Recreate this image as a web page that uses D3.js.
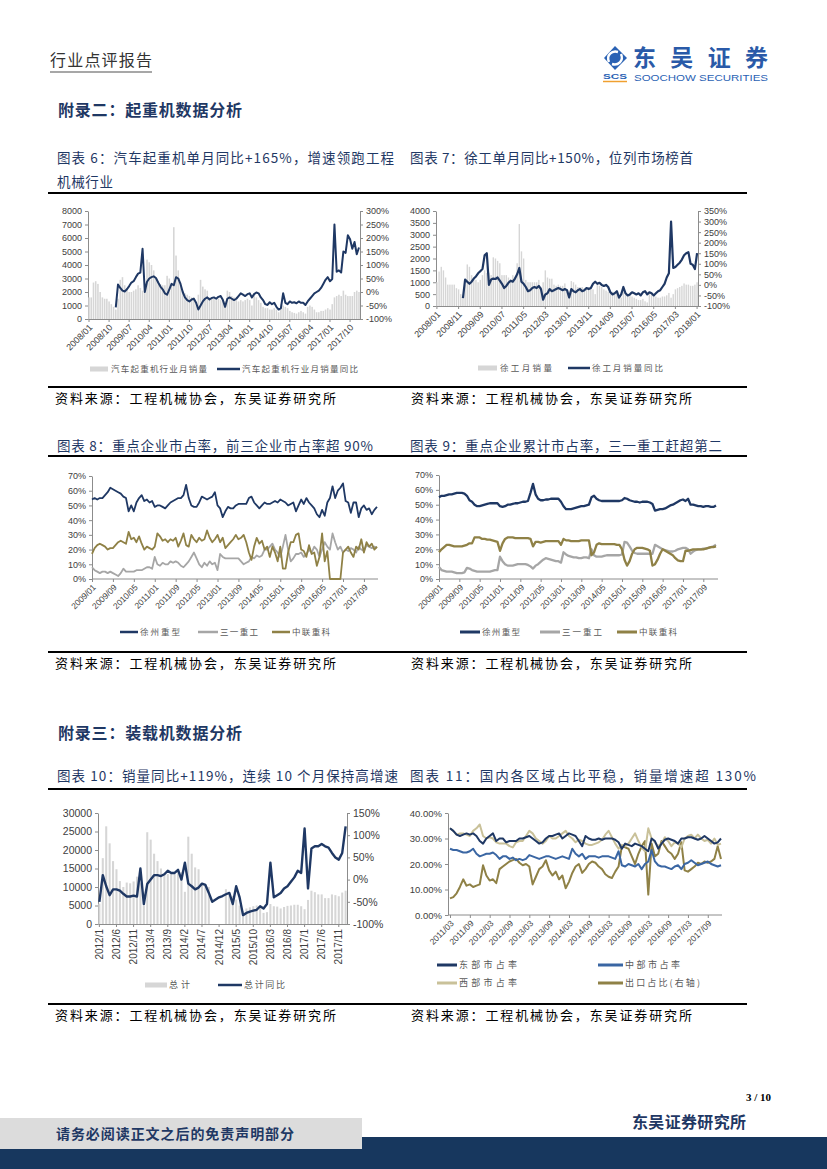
<!DOCTYPE html>
<html><head><meta charset="utf-8">
<script src="https://cdn.jsdelivr.net/npm/d3@7"></script>
<style>body{margin:0;background:#fff}svg{display:block}</style>
</head><body>
<script>
// ---------------- DATA ----------------
// Chart 6: truck crane monthly sales (2008/01-2018/02) and YoY % (2009/01-2018/02)
const c6TickLabels = ["2008/01","2008/10","2009/07","2010/04","2011/01","2011/10","2012/07","2013/04","2014/01","2014/10","2015/07","2016/04","2017/01","2017/10"];
const c6LeftTicks = [0,1000,2000,3000,4000,5000,6000,7000,8000];
const c6RightTicks = [-100,-50,0,50,100,150,200,250,300];
const c6Sales = [1600,1600,2700,2800,2600,2000,1600,1500,1500,1300,1100,900,
 700,1500,2900,3100,2500,2300,2000,2000,2100,2200,2500,2300,
 2100,2000,4400,4200,4000,3600,3000,2800,2600,2500,2500,3200,
 3000,2600,6800,4700,3600,2700,2100,1900,1800,1700,1600,1600,
 1200,1800,2900,2400,2200,2100,1600,1500,1500,1400,1500,1400,
 1500,1300,2100,2000,1700,1600,1400,1300,1400,1300,1400,1500,
 1400,1000,1900,1600,1400,1200,900,800,800,700,700,800,
 700,500,1100,1000,900,800,600,500,450,400,500,600,
 500,400,900,1000,900,700,500,500,600,600,700,800,
 700,1100,1600,1700,1800,1700,2100,1800,1700,1700,1700,2000,
 2100,2000];
const c6Yoy = [-57,28,15,5,2,10,22,35,40,55,68,72,
 160,0,38,50,55,58,52,35,20,10,-5,-10,
 10,30,25,55,50,30,0,-20,-30,-35,-28,-25,
 -40,-65,-50,-35,-25,-20,-28,-22,-20,-25,-18,-15,
 -30,-55,-25,-20,-25,-30,-25,-15,-5,-10,-15,-8,
 -5,-20,-8,-2,-5,-20,-30,-45,-48,-38,-45,-40,
 -55,-65,-60,-5,-40,-45,-35,-40,-38,-42,-35,-40,
 -40,-48,-35,-25,-15,-5,0,5,15,30,45,55,
 40,48,250,75,80,72,150,145,210,195,160,185,
 140,165];

// Chart 7: XCMG monthly sales (2008/01-2018/01) and YoY % (2009/01-2018/01)
const c7TickLabels = ["2008/01","2008/11","2009/09","2010/07","2011/05","2012/03","2013/01","2013/11","2014/09","2015/07","2016/05","2017/03","2018/01"];
const c7LeftTicks = [0,500,1000,1500,2000,2500,3000,3500,4000];
const c7RightTicks = [-100,-50,0,50,100,150,200,250,300,350];
const c7Sales = [1000,1450,1650,1500,1200,900,900,900,900,750,700,500,
 400,900,1750,1650,1300,1100,1100,1000,1100,1300,1500,1400,
 1400,1300,2050,2000,1900,1800,1300,1300,1300,1200,1100,1300,
 1200,1800,3450,2300,2000,1100,1000,1000,1000,1000,1000,1100,
 800,1000,1500,1200,1150,1150,900,850,900,850,850,950,
 700,600,1050,1000,900,800,800,800,750,800,800,800,
 700,500,900,850,800,700,650,600,550,600,550,600,
 450,350,600,550,500,450,400,350,300,250,250,300,
 200,150,500,500,450,400,350,350,400,400,450,550,
 350,500,700,750,800,850,950,900,900,850,850,900,
 1000];
const c7Yoy = [-63,25,15,5,15,30,40,55,65,75,140,150,
 0,25,30,28,35,20,5,-15,-5,10,20,15,
 30,50,80,15,5,-10,-30,-25,-15,-10,-15,-5,
 -20,-70,-45,-40,-20,-30,-25,-20,-15,-20,-25,-20,
 -25,-60,-20,-30,-35,-25,-20,-30,-25,-15,-20,-15,
 5,15,5,10,0,-5,0,-10,-35,-45,-40,-30,
 -60,-45,-10,-40,-50,-45,-35,-40,-45,-40,-50,-35,
 -30,-45,-35,-40,-50,-40,-30,-25,-10,5,35,55,
 300,80,85,95,105,120,140,150,155,100,95,75,
 150];

// Chart 8: monthly market share % (2009/01-2018/02)
const shareTickLabels = ["2009/01","2009/09","2010/05","2011/01","2011/09","2012/05","2013/01","2013/09","2014/05","2015/01","2015/09","2016/05","2017/01","2017/09"];
const shareTicks = [0,10,20,30,40,50,60,70];
const c8Xcmg = [54,55,54,55,55,57,59,62,61,60,59,58,
 56,55,46,50,46,52,55,57,53,54,52,53,
 49,50,50,49,48,50,52,53,54,55,55,57,
 64,55,50,49,49,52,56,55,54,55,56,59,
 50,48,42,46,49,48,48,50,51,51,51,51,
 55,56,52,50,48,50,52,51,51,52,53,52,
 54,53,52,50,51,52,46,50,54,51,55,52,
 50,48,44,42,47,43,52,55,63,55,60,62,
 65,53,52,45,52,52,42,48,50,47,48,44,
 47,49];
const c8Sany = [8,6,5,4,5,5,4,5,4,3,2,4,
 7,5,5,5,5,6,6,6,7,8,8,7,
 15,10,9,11,10,10,12,11,12,11,9,8,
 10,12,15,18,14,10,8,11,9,12,10,11,
 6,17,15,14,14,14,14,14,14,12,10,11,
 12,15,14,16,15,16,20,20,22,24,20,18,
 15,22,30,20,12,14,17,17,18,15,17,20,
 18,22,20,15,20,25,22,20,31,25,20,22,
 18,20,19,21,20,18,22,20,19,23,22,21,
 22,21];
const c8Zoomlion = [17,21,23,24,23,22,20,21,21,23,25,26,
 25,24,32,27,28,25,29,24,20,22,21,20,
 22,31,29,26,27,25,27,26,28,22,26,31,
 23,22,30,27,25,28,26,27,33,28,25,27,
 30,25,28,21,23,25,27,30,27,28,30,25,
 18,13,22,28,24,26,20,22,15,22,18,12,
 22,7,7,18,25,25,30,31,20,19,15,23,
 17,18,9,15,31,12,19,0,0,0,0,0,
 18,20,22,18,15,22,20,27,18,25,22,24,
 20,22];

// Chart 9: cumulative market share % (2009/01-2018/02)
const c9Xcmg = [55,56,56,56.5,57,57,57.5,58,58,58,57.5,56,
 53,52,50,49,49,49.5,50,50.5,51,51,51,51,
 49,48.5,49,50,50,50.5,51,51,51.5,52,52,52.5,
 58,64,57,54,53,53,53.5,53.5,54,54,54,54,
 52,49,47,47,47,47.5,48,48.5,49,49,49.5,50,
 55,56,54,53,52.5,52.5,52.5,52.5,52.5,52.5,52.5,52.5,
 53,54.5,54,53,52.5,52,52,51.5,52,52,52,51.5,
 50.5,46,46.5,47,47,47.5,48.5,49.5,50,51,52,53,
 53.5,52.5,54,50,50,49.5,49,49,48.5,49,49,48.5,
 48.5,49.5];
const c9Sany = [8,6,5.5,5,5,5,4.5,4,4,4,4.5,7.5,
 7,6,5.5,5,5,5,5,5,5,5.5,6,6,
 15,12,10,9,9,9,9.5,10,10,10,10,9.5,
 8.5,7,9,10,11.5,13,14,13.5,13,12.5,12,12,
 11,18,16.5,15.5,15,14.5,14.5,14,14,14.5,14.5,14,
 20,16,15,15,15,15.5,16,16,16,16,16,16,
 16.5,25,24.5,22,19,17.5,17,17,17,17,17,17,
 17,23,22,21,20,19.5,19,18.5,18.5,19,20,20.5,
 21,21,20,17,18.5,19.5,20,20,20.5,20.5,21,21.5,
 22,23];
const c9Zoomlion = [18,20,21.5,23,23,22.5,22,22,22,22,22.5,23,
 24,24,28,28,28,27,27,26.5,26.5,26,25.5,25,
 19,24,27,28,28,28,27.5,27.5,27.5,27.5,27.5,27.5,
 27,22,25,25,24.5,25,25.5,25.5,25.5,25.5,25.5,25.5,
 23,27,26,26,25.5,25.5,25.5,25.5,26,26,26,26,
 16,18,23,24,23.5,23.5,23.5,23.5,23.5,23.5,23,23,
 20,13,9,12,17,20,21,21,21,20.5,20,19,
 9,10,13,17,20,19,18,17,16,14,12.5,12,
 12,19,19,19.5,20,20,20,20,20,20.5,21,21.5,
 21.5,22];

// Chart 10: loader total monthly sales (2012/1-2018/1) and YoY %
const c10TickLabels = ["2012/1","2012/6","2012/11","2013/4","2013/9","2014/2","2014/7","2014/12","2015/5","2015/10","2016/3","2016/8","2017/1","2017/6","2017/11"];
const c10LeftTicks = [0,5000,10000,15000,20000,25000,30000];
const c10RightTicks = [-100,-50,0,50,100,150];
const c10Sales = [5500,17800,26400,21800,17000,14800,11600,10000,11200,11000,11500,12800,
 11000,5000,24800,22800,19000,17000,15000,13500,13500,13500,13500,14000,
 14000,8700,23600,19000,15300,14800,11000,10500,10000,null,null,null,
 null,9400,8000,7600,6600,5000,3500,4200,4500,4800,5000,4600,
 3000,3200,5400,4800,4700,4200,4600,4900,5000,5200,5200,4800,
 4000,6500,9000,8600,8000,8000,7000,7000,8000,7800,7500,8500,
 9000];
const c10Yoy = [-50,10,-15,-35,-22,-22,-25,-32,-38,-38,-36,-38,
 25,-55,-10,0,10,10,8,12,20,15,15,22,
 0,38,-9,-15,-22,-18,-9,-12,-30,-50,-45,-40,
 -37,-33,-30,-55,-15,-40,-80,-75,-72,-70,-68,-60,
 -65,-55,38,-40,-35,-30,-20,-15,-5,5,20,15,
 115,-20,70,75,75,80,75,72,60,50,45,60,
 120];

// Chart 11: regional shares % (2011/03-2018/01)
const c11TickLabels = ["2011/03","2011/09","2012/03","2012/09","2013/03","2013/09","2014/03","2014/09","2015/03","2015/09","2016/03","2016/09","2017/03","2017/09"];
const c11Ticks = [0,10,20,30,40];
const c11East = [34,33,31.5,31,31.5,32,31.5,32,31,29,28,30,31,32,29,30,30,28.5,29,29,29,30,30,30.5,31,30,29,28,28.5,30,31,31,31.5,32,30,31,32,31.5,31,29,27,31,30,29.5,29.5,30,29.5,30,30,30,29.5,28.5,26,28,27.5,27,28,27.5,27,26,25,30,29,26,28,29.5,30,29.5,29,28,30,30,30.5,30.5,30,29.5,30,31,30,29,28,28.5,30];
const c11Central = [26,25.5,25.5,25,24.5,24.5,25,26,24,23,23.5,24,24,24.5,23.5,22,23,23,22,22.5,21.5,22,21.5,22,23.5,23,22.5,22,22.5,23,23,22.5,22,22.5,23,22.5,22,26,24,23,24,22,23,23,23,22.5,23,23,23,22.5,22,25,19.5,19,20,19.5,19,20,18,20,21,25.5,21,19.5,19,19,18.5,18,19,19.5,18,20,20.5,21.5,20.5,19.5,20,20.5,21,20,19.5,19,19.5];
const c11West = [34,33,31.5,32,32,31.5,31,33,34,35.5,31,30,30.5,30,28.5,28,28,28,27,26.5,28.5,29,29,31,33,32,30,29,28,29,31,30,30,31,32,33,31,30,28.5,29.5,29,28,27.5,27.5,28,28.5,29.5,31.5,33,30.5,28,26,27.5,27,28,30,32,29,26.5,25,34,30,28.5,27,28,30.5,29,27,28.5,28,26.5,30,31,31.5,30,31.5,30,29,29.5,28,30,27.5,28];
const c11Export = [6.5,7,8.5,11,14,11.5,12,11,11.5,12,19.5,15.5,13.5,14,12.5,18,19,20,21,21.5,22,20.5,19.5,20,19,12,15,18,19,21.5,17.5,15.5,17,14,15.5,10.5,13,16.5,19,20,16.5,18,20,21,20.5,19,18,16,15,14.5,17,19,27,26.5,26,23,20,24,27,29,8,28,23,24,29,27,25,24,22,24,28.5,17.5,17,18,19,20.5,20,21,20.5,21,22,27,22];

// ---------------- HELPERS ----------------
function months(y, m, n, pad) {
  const out = [];
  for (let i = 0; i < n; i++) {
    const k = m - 1 + i, mm = k % 12 + 1, yy = y + Math.floor(k / 12);
    out.push(yy + "/" + (pad ? String(mm).padStart(2, "0") : mm));
  }
  return out;
}
const c6Cats = months(2008, 1, c6Sales.length, true);
const c7Cats = months(2008, 1, c7Sales.length, true);
const shareCats = months(2009, 1, c8Xcmg.length, true);
const c10Cats = months(2012, 1, c10Sales.length, false);
const c11Cats = months(2011, 3, c11East.length, true);

const NAVY = "#1f3864", BAR = "#d6d6d6", GRAYL = "#a6a6a6", OLIVE = "#8f8146",
      BLUE = "#3a66a3", BEIGE = "#c9c199", AXIS = "#8c8c8c", LBL = "#404040";
const NUM = "'Liberation Sans', Arial, sans-serif";
const CJK = "'Noto Sans CJK SC', 'Noto Sans', sans-serif";

const svg = d3.select("body").append("svg").attr("width", 827).attr("height", 1169)
  .style("font-family", CJK);

function txt(x, y, s, o = {}) {
  const t = svg.append("text").attr("x", x).attr("y", y).text(s)
    .attr("font-size", o.size || 14).attr("fill", o.fill || "#000")
    .attr("font-weight", o.bold ? "bold" : "normal");
  if (o.len) t.attr("textLength", o.len).attr("lengthAdjust", o.adj || "spacing");
  if (o.family) t.style("font-family", o.family);
  if (o.anchor) t.attr("text-anchor", o.anchor);
  return t;
}
function hline(x1, x2, y, w, c) {
  svg.append("line").attr("x1", x1).attr("x2", x2).attr("y1", y).attr("y2", y)
    .attr("stroke", c || "#000").attr("stroke-width", w || 1.8);
}
function styleAxis(g, fs) {
  g.attr("font-family", NUM).attr("font-size", fs);
  g.select(".domain").attr("stroke", AXIS).attr("stroke-width", 1);
  g.selectAll(".tick line").attr("stroke", AXIS);
  g.selectAll(".tick text").attr("fill", LBL);
  return g;
}
function valAxis(side, xpos, y, ticks, fmt, fs) {
  const ax = (side === "left" ? d3.axisLeft(y) : d3.axisRight(y))
    .tickValues(ticks).tickFormat(fmt).tickSize(3).tickPadding(3).tickSizeOuter(0);
  return styleAxis(svg.append("g").attr("transform", `translate(${xpos},0)`).call(ax), fs);
}
function catAxis(x, ypos, ticks, fs, rot) {
  const g = svg.append("g").attr("transform", `translate(0,${ypos})`)
    .call(d3.axisBottom(x).tickValues(ticks).tickSize(3).tickSizeOuter(0));
  styleAxis(g, fs);
  const t = g.selectAll(".tick text").attr("x", 0).attr("y", 0).attr("text-anchor", "end");
  if (rot === 45) t.attr("dy", "0.32em").attr("transform", "translate(2,7) rotate(-45)");
  else t.attr("dy", "0.35em").attr("transform", "translate(0,5) rotate(-90)");
  return g;
}
function drawLine(x, y, cats, vals, color, w) {
  const off = x.bandwidth ? x.bandwidth() / 2 : 0;
  const line = d3.line().x((d, i) => x(cats[i]) + off).y(d => y(d));
  svg.append("path").datum(vals).attr("d", line).attr("fill", "none")
    .attr("stroke", color).attr("stroke-width", w).attr("stroke-linejoin", "round");
}
function drawBars(x, y, cats, vals) {
  svg.append("g").selectAll("rect")
    .data(vals.map((v, i) => ({ v, c: cats[i] })).filter(d => d.v != null))
    .join("rect").attr("x", d => x(d.c)).attr("width", x.bandwidth())
    .attr("y", d => y(d.v)).attr("height", d => y(0) - y(d.v)).attr("fill", BAR);
}
function legLine(x1, x2, y, color, w, label, tx, len, fs) {
  svg.append("line").attr("x1", x1).attr("x2", x2).attr("y1", y).attr("y2", y)
    .attr("stroke", color).attr("stroke-width", w);
  txt(tx, y + 3.2, label, { size: fs || 8.5, fill: "#595959", len });
}
function legRect(x1, x2, y, label, tx, len, fs) {
  svg.append("rect").attr("x", x1).attr("y", y - 2.5).attr("width", x2 - x1).attr("height", 5).attr("fill", BAR);
  txt(tx, y + 3.2, label, { size: fs || 8.5, fill: "#595959", len });
}
const pct = d => d + "%";

// ---------------- PAGE FRAME ----------------
txt(50, 66, "行业点评报告", { size: 16, fill: "#333", len: 102 });
hline(50, 152, 72, 1.5, "#8a8a8a");

// logo
const lg = svg.append("g");
lg.append("path").attr("d", "M604,58 L615,46 L627,58 L615,70 Z").attr("fill", "#2a62b4");
lg.append("path").attr("d", "M609,62 C606,55 612,50 618,52 M621,54 C624,61 618,66 612,64")
  .attr("fill", "none").attr("stroke", "#fff").attr("stroke-width", 2.4);
txt(603, 79, "SCS", { size: 8, fill: "#2a62b4", bold: true, family: NUM, len: 24, adj: "spacingAndGlyphs" });
hline(603, 627, 81.5, 1.5, "#f0a030");
txt(633, 66, "东吴证券", { size: 23, fill: "#2a5aa8", bold: true, len: 135 });
txt(634, 81, "SOOCHOW SECURITIES", { size: 9.5, fill: "#2a62b4", family: NUM, len: 134, adj: "spacingAndGlyphs" });

txt(58, 116, "附录二：起重机数据分析", { size: 16, fill: NAVY, bold: true, len: 184 });
txt(57, 163, "图表 6：汽车起重机单月同比+165%，增速领跑工程", { size: 13.5, fill: NAVY, len: 337 });
txt(57, 187, "机械行业", { size: 13.5, fill: NAVY, len: 56 });
txt(410, 163, "图表 7：徐工单月同比+150%，位列市场榜首", { size: 13.5, fill: NAVY, len: 283 });
hline(48, 747, 193);

// ---------------- CHART 6 ----------------
{
  const x = d3.scaleBand().domain(c6Cats).range([88, 360]).paddingInner(0.3).paddingOuter(0.1);
  const yL = d3.scaleLinear().domain([0, 8000]).range([319, 211]);
  const yR = d3.scaleLinear().domain([-100, 300]).range([319, 211]);
  valAxis("left", 88, yL, c6LeftTicks, d => d, 9);
  valAxis("right", 360, yR, c6RightTicks, pct, 9);
  catAxis(x, 319, c6TickLabels, 9, 45);
  drawBars(x, yL, c6Cats, c6Sales);
  drawLine(x, yR, c6Cats.slice(12), c6Yoy, NAVY, 2);
  legRect(90, 108, 369, "汽车起重机行业月销量", 111, 96);
  legLine(217, 240, 369, NAVY, 2.5, "汽车起重机行业月销量同比", 242, 116);
}
// ---------------- CHART 7 ----------------
{
  const x = d3.scaleBand().domain(c7Cats).range([436, 698]).paddingInner(0.35).paddingOuter(0.1);
  const yL = d3.scaleLinear().domain([0, 4000]).range([306, 211]);
  const yR = d3.scaleLinear().domain([-100, 350]).range([306, 211]);
  valAxis("left", 436, yL, c7LeftTicks, d => d, 9);
  valAxis("right", 698, yR, c7RightTicks, pct, 9);
  catAxis(x, 306, c7TickLabels, 9, 45);
  drawBars(x, yL, c7Cats, c7Sales);
  drawLine(x, yR, c7Cats.slice(12), c7Yoy, NAVY, 2.2);
  legRect(478, 497, 368, "徐工月销量", 500, 52);
  legLine(568, 590, 368, NAVY, 2.5, "徐工月销量同比", 592, 71);
}
hline(48, 747, 387);
txt(55, 403, "资料来源：工程机械协会，东吴证券研究所", { size: 13, len: 281 });
txt(411, 403, "资料来源：工程机械协会，东吴证券研究所", { size: 13, len: 281 });

txt(57, 451, "图表 8：重点企业市占率，前三企业市占率超 90%", { size: 13.5, fill: NAVY, len: 316 });
txt(410, 451, "图表 9：重点企业累计市占率，三一重工赶超第二", { size: 13.5, fill: NAVY, len: 312 });
hline(48, 747, 456);

// ---------------- CHART 8 ----------------
{
  const x = d3.scalePoint().domain(shareCats).range([92, 377]);
  const y = d3.scaleLinear().domain([0, 70]).range([579, 476]);
  valAxis("left", 92, y, shareTicks, pct, 9);
  const g = catAxis(x, 579, shareTickLabels, 8.5, 45);
  g.select(".domain").attr("d", "M92,0H378");
  drawLine(x, y, shareCats, c8Sany, GRAYL, 1.8);
  drawLine(x, y, shareCats, c8Zoomlion, OLIVE, 1.8);
  drawLine(x, y, shareCats, c8Xcmg, NAVY, 1.8);
  legLine(120, 138, 632, NAVY, 2.5, "徐州重型", 140, 40);
  legLine(198, 218, 632, GRAYL, 2.5, "三一重工", 220, 38);
  legLine(272, 290, 632, OLIVE, 2.5, "中联重科", 292, 38);
}
// ---------------- CHART 9 ----------------
{
  const x = d3.scalePoint().domain(shareCats).range([439, 716]);
  const y = d3.scaleLinear().domain([0, 70]).range([579, 475]);
  valAxis("left", 439, y, shareTicks, pct, 9);
  const g = catAxis(x, 579, shareTickLabels, 8.5, 45);
  g.select(".domain").attr("d", "M439,0H718");
  drawLine(x, y, shareCats, c9Sany, GRAYL, 2.3);
  drawLine(x, y, shareCats, c9Zoomlion, OLIVE, 2.3);
  drawLine(x, y, shareCats, c9Xcmg, NAVY, 2.3);
  legLine(460, 480, 632, NAVY, 3, "徐州重型", 482, 38);
  legLine(540, 560, 632, GRAYL, 3, "三一重工", 562, 40);
  legLine(617, 637, 632, OLIVE, 3, "中联重科", 639, 38);
}
hline(48, 747, 652);
txt(55, 668, "资料来源：工程机械协会，东吴证券研究所", { size: 13, len: 281 });
txt(411, 668, "资料来源：工程机械协会，东吴证券研究所", { size: 13, len: 281 });

txt(58, 739, "附录三：装载机数据分析", { size: 16, fill: NAVY, bold: true, len: 184 });
txt(57, 781, "图表 10：销量同比+119%，连续 10 个月保持高增速", { size: 13.5, fill: NAVY, len: 341 });
txt(410, 781, "图表 11：国内各区域占比平稳，销量增速超 130%", { size: 13.5, fill: NAVY, len: 346 });
hline(48, 747, 789);

// ---------------- CHART 10 ----------------
{
  const x = d3.scaleBand().domain(c10Cats).range([98, 347]).paddingInner(0.4).paddingOuter(0.1);
  const yL = d3.scaleLinear().domain([0, 30000]).range([924, 813]);
  const yR = d3.scaleLinear().domain([-100, 150]).range([924, 813]);
  valAxis("left", 98, yL, c10LeftTicks, d => d, 10.5);
  valAxis("right", 347, yR, c10RightTicks, pct, 10.5);
  catAxis(x, 924, c10TickLabels, 10, 90);
  drawBars(x, yL, c10Cats, c10Sales);
  drawLine(x, yR, c10Cats, c10Yoy, NAVY, 2.4);
  legRect(145, 167, 985, "总计", 169, 21, 9);
  legLine(218, 242, 985, NAVY, 2.5, "总计同比", 244, 41, 9);
}
// ---------------- CHART 11 ----------------
{
  const x = d3.scalePoint().domain(c11Cats).range([450, 721]);
  const y = d3.scaleLinear().domain([0, 40]).range([915, 813]);
  valAxis("left", 448, y, c11Ticks, d => d.toFixed(2) + "%", 9.5);
  const g = catAxis(x, 915, c11TickLabels, 8.5, 45);
  g.select(".domain").attr("d", "M448,0H722");
  drawLine(x, y, c11Cats, c11Export, OLIVE, 2);
  drawLine(x, y, c11Cats, c11West, BEIGE, 2);
  drawLine(x, y, c11Cats, c11Central, BLUE, 2);
  drawLine(x, y, c11Cats, c11East, NAVY, 2);
  legLine(437, 457, 965, NAVY, 3, "东部市占率", 459, 58, 9);
  legLine(598, 623, 965, BLUE, 3, "中部市占率", 625, 55, 9);
  legLine(437, 457, 983, BEIGE, 3, "西部市占率", 459, 58, 9);
  legLine(598, 623, 983, OLIVE, 3, "出口占比(右轴)", 625, 75, 9);
}
hline(48, 747, 1004);
txt(55, 1020, "资料来源：工程机械协会，东吴证券研究所", { size: 13, len: 281 });
txt(411, 1020, "资料来源：工程机械协会，东吴证券研究所", { size: 13, len: 281 });

// ---------------- FOOTER ----------------
txt(771, 1101, "3 / 10", { size: 11, bold: true, family: "'Liberation Serif', serif", anchor: "end" });
txt(632, 1128, "东吴证券研究所", { size: 16, fill: NAVY, bold: true, len: 114 });
svg.append("rect").attr("x", 0).attr("y", 1137).attr("width", 827).attr("height", 32).attr("fill", "#17375e");
svg.append("rect").attr("x", 0).attr("y", 1118).attr("width", 362).attr("height", 31).attr("fill", "#dcdcdc");
txt(56, 1139, "请务必阅读正文之后的免责声明部分", { size: 14, fill: NAVY, bold: true, len: 238 });
</script>
</body></html>
